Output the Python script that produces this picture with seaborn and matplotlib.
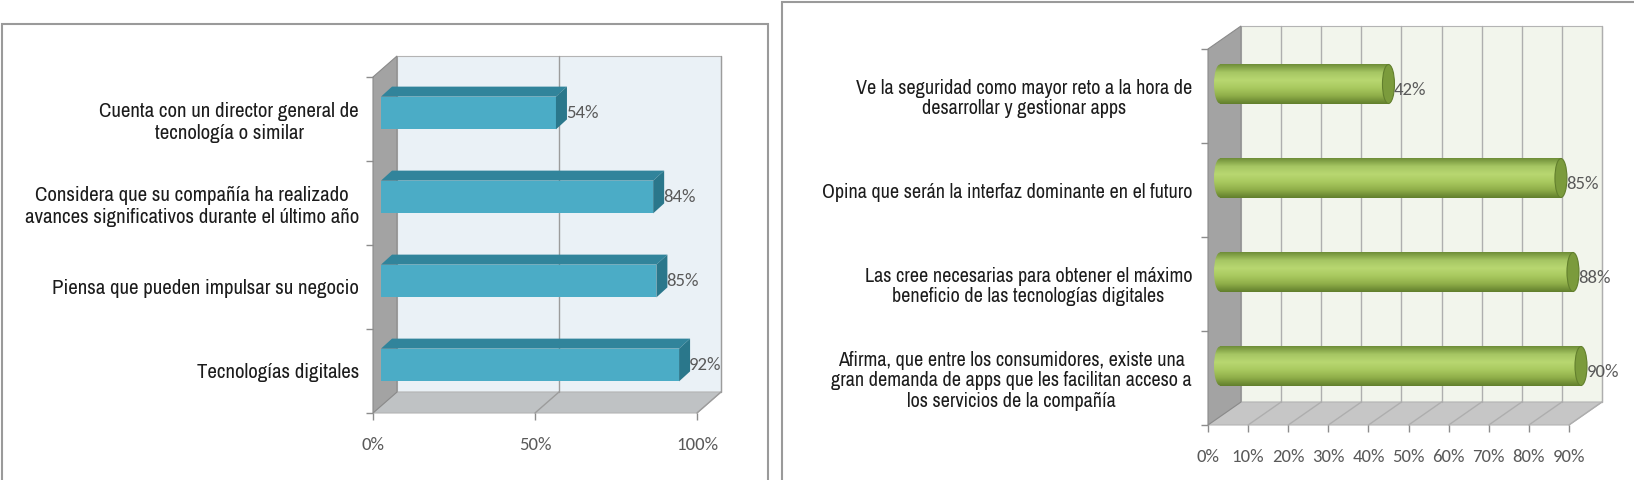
import numpy as np
import seaborn as sns
import matplotlib.pyplot as plt
from matplotlib.patches import Polygon, Rectangle, Ellipse
from matplotlib.colors import LinearSegmentedColormap

# ---- data ----
left_labels = [
    "Cuenta con un director general de\ntecnología o similar",
    "Considera que su compañía ha realizado\navances significativos durante el último año",
    "Piensa que pueden impulsar su negocio",
    "Tecnologías digitales",
]
left_values = [0.54, 0.84, 0.85, 0.92]
left_ticks = [0, 0.5, 1.0]
left_ticklabels = ["0%", "50%", "100%"]

right_labels = [
    "Ve la seguridad como mayor reto a la hora de\ndesarrollar y gestionar apps",
    "Opina que serán la interfaz dominante en el futuro",
    "Las cree necesarias para obtener el máximo\nbeneficio de las tecnologías digitales",
    "Afirma, que entre los consumidores, existe una\ngran demanda de apps que les facilitan acceso a\nlos servicios de la compañía",
]
right_values = [0.42, 0.85, 0.88, 0.90]
right_ticks = [0, 0.1, 0.2, 0.3, 0.4, 0.5, 0.6, 0.7, 0.8, 0.9]
right_ticklabels = ["0%", "10%", "20%", "30%", "40%", "50%", "60%", "70%", "80%", "90%"]

W, H = 1634, 480
sns.set_style("white")
LABEL_FONT = ['Archivo Narrow', 'PT Sans Narrow', 'Roboto Condensed', 'DejaVu Sans']
NUM_FONT = ['Carlito', 'Archivo Narrow', 'PT Sans Narrow', 'DejaVu Sans']
plt.rcParams['font.family'] = LABEL_FONT

fig = plt.figure(figsize=(W / 100, H / 100), dpi=100)

# panel frames
fig.add_artist(Rectangle((2 / W, -0.05), 766 / W, (480 - 24) / H + 0.05, transform=fig.transFigure,
                         fill=False, ec='#9a9a9a', lw=1.5))
fig.add_artist(Rectangle((782 / W, -0.05), 900 / W, (480 - 2) / H + 0.05, transform=fig.transFigure,
                         fill=False, ec='#9a9a9a', lw=1.5))


def place(x0, y0, x1, y1):
    # pixel box, origin top-left
    return fig.add_axes([x0 / W, 1 - y1 / H, (x1 - x0) / W, (y1 - y0) / H])


def per_px(ax):
    bb = ax.get_position()
    xa, xb = ax.get_xlim()
    ya, yb = ax.get_ylim()
    return (xb - xa) / (bb.width * W), abs(yb - ya) / (bb.height * H)


def draw_box(ax, ticks, depth, back_c, floor_c, side_c, edge_c, grid_c):
    bb = ax.get_position()
    dx = depth[0] / (bb.width * W)
    dy = depth[1] / (bb.height * H)
    xmin, xmax = ax.get_xlim()
    kw = dict(transform=ax.transAxes, clip_on=False, zorder=0.5)
    ax.add_patch(Rectangle((dx, dy), 1, 1, fc=back_c, ec=edge_c, lw=0.8, **kw))
    ax.add_patch(Polygon([(0, 0), (1, 0), (1 + dx, dy), (dx, dy)], fc=floor_c, ec=edge_c, lw=0.8, **kw))
    ax.add_patch(Polygon([(0, 0), (0, 1), (dx, 1 + dy), (dx, dy)], fc=side_c, ec='#8a8a8a', lw=0.8, **kw))
    for t in ticks[1:]:
        xa = (t - xmin) / (xmax - xmin)
        ax.plot([xa + dx, xa + dx], [dy, 1 + dy], color=grid_c, lw=1, **kw)
        ax.plot([xa, xa + dx], [0, dy], color=grid_c, lw=1, **kw)


def style_axes(ax, ticks, ticklabels, n, ylab_size, ylab_pad, lsp):
    ax.set_xlim(ticks[0], ticks[-1])
    ax.set_ylim(n - 0.5, -0.5)
    ax.set_facecolor('none')
    for s in ax.spines.values():
        s.set_visible(False)
    ax.set_xticks(ticks)
    ax.set_xticklabels(ticklabels, family=NUM_FONT)
    ax.set_yticks([i - 0.5 for i in range(n + 1)], minor=True)
    ax.tick_params(axis='x', bottom=True, length=5, width=1, color='#8c8c8c', pad=12.5,
                   labelsize=13.5, labelcolor='#595959')
    ax.tick_params(axis='y', which='major', left=False, length=0, pad=ylab_pad,
                   labelsize=ylab_size, labelcolor='#1c1c1c')
    ax.tick_params(axis='y', which='minor', left=True, length=5, width=1, color='#8c8c8c')
    for t in ax.get_yticklabels():
        t.set_multialignment('center')
        t.set_linespacing(lsp)
        t.set_fontweight('medium')
    ax.set_xlabel('')
    ax.set_ylabel('')


# ---- left chart: 3D boxes ----
axL = place(373, 77, 697, 413)
sns.barplot(x=left_values, y=left_labels, orient='h', color='#4BACC6', saturation=1,
            width=0.39, linewidth=0, ax=axL, zorder=2)
style_axes(axL, left_ticks, left_ticklabels, len(left_values), 15, 10, 1.2)
draw_box(axL, left_ticks, (24, 21), '#EAF1F6', '#BFC2C4', '#A3A3A3', '#B4B4B4', '#9c9c9c')

ux, uy = per_px(axL)
for p in list(axL.containers[0]):
    p.set_x(p.get_x() + 8 * ux)
    p.set_y(p.get_y() - 6 * uy)
    p.set_clip_on(False)
    x0, y0, h = p.get_x(), p.get_y(), p.get_height()
    x1 = x0 + p.get_width()
    ddx, ddy = 11 * ux, 10 * uy
    axL.add_patch(Polygon([(x0, y0), (x1, y0), (x1 + ddx, y0 - ddy), (x0 + ddx, y0 - ddy)],
                          fc='#31849B', ec='none', zorder=2, clip_on=False))
    axL.add_patch(Polygon([(x1, y0), (x1, y0 + h), (x1 + ddx, y0 + h - ddy), (x1 + ddx, y0 - ddy)],
                          fc='#2A778B', ec='none', zorder=2, clip_on=False))
annsL = axL.bar_label(axL.containers[0], labels=[f"{v:.0%}" for v in left_values], padding=7,
                      color='#595959', fontsize=13.5, family=NUM_FONT)
for a in annsL:
    a.set_annotation_clip(False)
axL.set_xlim(left_ticks[0], left_ticks[-1])
axL.set_ylim(len(left_values) - 0.5, -0.5)

# ---- right chart: cylinders ----
axR = place(1208, 49, 1569, 425)
sns.barplot(x=right_values, y=right_labels, orient='h', color='#9BBB59', saturation=1,
            width=0.415, linewidth=0, ax=axR, zorder=2)
style_axes(axR, right_ticks, right_ticklabels, len(right_values), 14.5, 11.5, 1.1)
draw_box(axR, right_ticks, (33, 23), '#F2F5EC', '#C6C6C6', '#A3A3A3', '#B4B4B4', '#AEAEAE')

cyl = LinearSegmentedColormap.from_list(
    'cyl', ['#6f8e38', '#a6c663', '#b8d771', '#a9c95f', '#8fae49', '#627f2d'])
grad = np.linspace(0, 1, 64).reshape(-1, 1)
ux, uy = per_px(axR)
for p in list(axR.containers[0]):
    p.set_x(p.get_x() + 12 * ux)
    p.set_y(p.get_y() - 12 * uy)
    p.set_clip_on(False)
    x0, y0, h = p.get_x(), p.get_y(), p.get_height()
    x1 = x0 + p.get_width()
    yc = y0 + h / 2
    ew = 12 * ux
    lcap = Ellipse((x0, yc), ew, h, fc='none', ec='none', zorder=2)
    axR.add_patch(lcap)
    for clip in (p, lcap):
        im = axR.imshow(grad, cmap=cyl, extent=(x0 - ew, x1, y0 + h, y0), aspect='auto',
                        interpolation='bilinear', zorder=2.1)
        im.set_clip_path(clip)
    axR.add_patch(Ellipse((x1, yc), ew, h, fc='#7b9b3c', ec='#627f2d', lw=0.8, zorder=2.2,
                          clip_on=False))
annsR = axR.bar_label(axR.containers[0], labels=[f"{v:.0%}" for v in right_values], padding=4,
                      color='#595959', fontsize=13.5, family=NUM_FONT)
for a in annsR:
    a.xyann = (a.xyann[0], -4)
    a.set_annotation_clip(False)
    a.set_clip_on(False)
axR.set_xlim(right_ticks[0], right_ticks[-1])
axR.set_ylim(len(right_values) - 0.5, -0.5)

fig.savefig("out.png", dpi=100)
